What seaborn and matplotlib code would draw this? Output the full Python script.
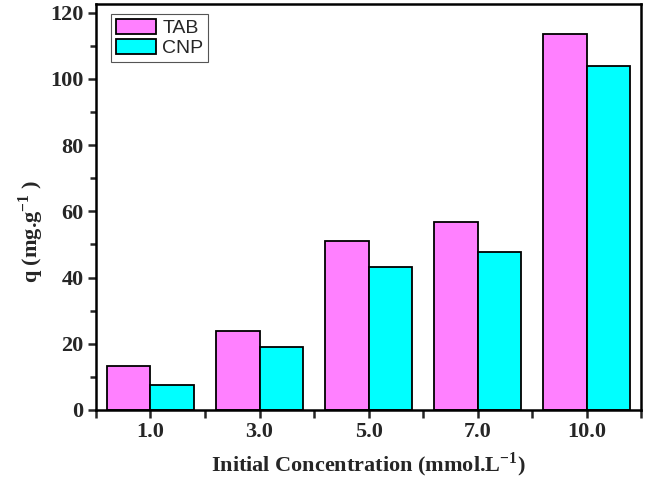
import pandas as pd
import numpy as np
import matplotlib
matplotlib.use("Agg")
import matplotlib.pyplot as plt
import seaborn as sns
from matplotlib.ticker import MultipleLocator, FixedLocator

# data
concentrations = ["1.0", "3.0", "5.0", "7.0", "10.0"]
tab_values = [13.3, 23.9, 51.0, 56.8, 113.6]
cnp_values = [7.5, 19.0, 43.2, 47.8, 104.0]
series_names = ["TAB", "CNP"]
series_colors = ["#FF80FF", "#00FFFF"]

df = pd.DataFrame({
    "conc": concentrations * 2,
    "q": tab_values + cnp_values,
    "series": [series_names[0]] * 5 + [series_names[1]] * 5,
})

sns.set_style("ticks")
plt.rcParams["font.family"] = ["Liberation Serif", "DejaVu Serif"]
plt.rcParams["mathtext.fontset"] = "custom"
plt.rcParams["mathtext.rm"] = "Liberation Serif:bold"
plt.rcParams["mathtext.bf"] = "Liberation Serif:bold"

fig = plt.figure(figsize=(6.46, 4.84), dpi=100)
ax = fig.add_axes([0.1486, 0.1529, 0.8437, 0.8388])

sns.barplot(data=df, x="conc", y="q", hue="series", order=concentrations,
            hue_order=series_names, palette=series_colors, width=0.8,
            edgecolor="black", linewidth=1.3, saturation=1, ax=ax)

ax.set_xlim(-0.5, 4.5)
ax.set_ylim(0, 122.6)
ax.yaxis.set_major_locator(MultipleLocator(20))
ax.yaxis.set_minor_locator(MultipleLocator(10))
ax.xaxis.set_minor_locator(FixedLocator(np.arange(-0.5, 5, 1.0)))

for s in ax.spines.values():
    s.set_linewidth(1.8)
    s.set_color("black")
ax.tick_params(axis="both", which="major", direction="out", length=6, width=1.8,
               labelsize=16, pad=3)
ax.tick_params(axis="y", which="minor", direction="out", length=4, width=1.8)
ax.tick_params(axis="x", which="minor", direction="out", length=6, width=1.8)
for lab in ax.get_xticklabels() + ax.get_yticklabels():
    lab.set_fontweight("bold")

ax.set_xlabel("Initial Concentration (mmol.L$^{-1}$)", fontsize=16, fontweight="bold", labelpad=6)
ax.set_ylabel("q (mg.g$^{-1}$ )", fontsize=16, fontweight="bold")
ax.yaxis.set_label_coords(-0.092, 0.44)

leg = ax.legend(loc="upper left", bbox_to_anchor=(0.02, 0.985), frameon=True,
                fancybox=False, edgecolor="#555555", framealpha=1,
                prop={"family": "Liberation Sans", "size": 14},
                handlelength=2.1, handleheight=0.8, handletextpad=0.3,
                borderpad=0.25, labelspacing=0.1, borderaxespad=0.2)
leg.get_frame().set_linewidth(0.8)

fig.savefig("out.png", dpi=100)
